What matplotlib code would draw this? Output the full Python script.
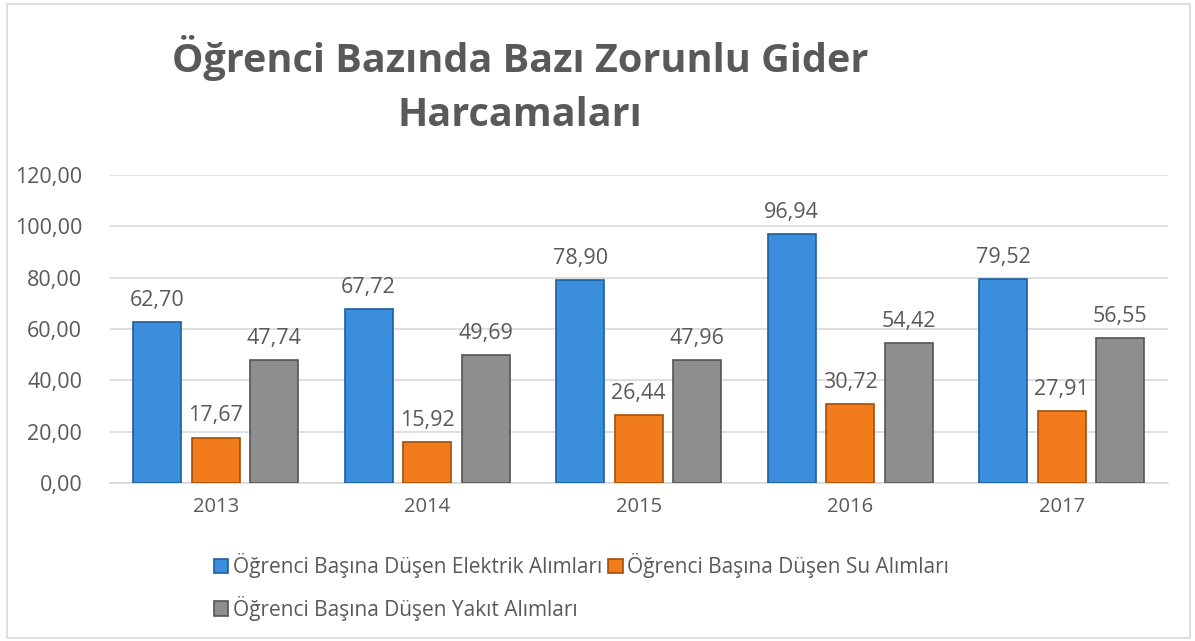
import matplotlib.pyplot as plt
import matplotlib.patches as mpatches
import numpy as np

plt.rcParams['font.family'] = ['Open Sans', 'DejaVu Sans']

years = ["2013", "2014", "2015", "2016", "2017"]
elektrik = [62.70, 67.72, 78.90, 96.94, 79.52]
su = [17.67, 15.92, 26.44, 30.72, 27.91]
yakit = [47.74, 49.69, 47.96, 54.42, 56.55]
series_names = ["Öğrenci Başına Düşen Elektrik Alımları",
                "Öğrenci Başına Düşen Su Alımları",
                "Öğrenci Başına Düşen Yakıt Alımları"]
colors = ["#3A8EDB", "#F27B1B", "#8E8E8E"]
edges = ["#1F5E9C", "#A34F0A", "#555555"]

txt = "#595959"

fig = plt.figure(figsize=(11.95, 6.41), dpi=100)
ax = fig.add_axes([0.092, 0.2465, 0.885, 0.4805])

x = np.arange(len(years))
w = 0.227
step = 0.277
handles = []
for i, (vals, c, ec) in enumerate(zip([elektrik, su, yakit], colors, edges)):
    bars = ax.bar(x + (i - 1) * step, vals, w, color=c, edgecolor=ec,
                  linewidth=1.2, zorder=3, label=series_names[i])
    handles.append(bars)
    for b, v in zip(bars, vals):
        ax.text(b.get_x() + b.get_width() / 2, v + 8.5,
                f"{v:.2f}".replace(".", ","), ha="center", va="center",
                fontsize=15.5, color=txt)

ax.set_ylim(0, 120)
ax.set_xlim(-0.5, 4.5)
ax.set_yticks(np.arange(0, 121, 20))
ax.set_yticklabels([f"{v:.2f}".replace(".", ",") for v in np.arange(0, 121, 20)])
ax.set_xticks(x)
ax.set_xticklabels(years)
ax.tick_params(axis="y", length=0, labelsize=15.5, colors=txt, pad=20)
ax.tick_params(axis="x", length=0, labelsize=14.5, colors=txt, pad=10)
ax.yaxis.grid(True, color="#D9D9D9", linewidth=1.2, zorder=0)
for s in ["top", "right", "left"]:
    ax.spines[s].set_visible(False)
ax.spines["bottom"].set_color("#D9D9D9")
ax.spines["bottom"].set_linewidth(1.2)

# two-line title, placed by baseline
fig.text(0.435, 0.888, "Öğrenci Bazında Bazı Zorunlu Gider", ha="center",
         va="baseline", fontsize=28.5, fontweight="bold", color=txt)
fig.text(0.435, 0.803, "Harcamaları", ha="center",
         va="baseline", fontsize=28.5, fontweight="bold", color=txt)

leg = fig.legend([handles[0], handles[2], handles[1]],
                 [series_names[0], series_names[2], series_names[1]],
                 ncol=2, loc="upper left", bbox_to_anchor=(0.172, 0.15),
                 frameon=False, fontsize=15, handlelength=0.7,
                 handleheight=0.7, handletextpad=0.2, columnspacing=0.3,
                 labelspacing=0.85, borderaxespad=0)
for t in leg.get_texts():
    t.set_color(txt)

fig.patches.append(mpatches.Rectangle((0.006, 0.004), 0.99, 0.99,
                                      transform=fig.transFigure, fill=False,
                                      edgecolor="#D9D9D9", linewidth=1.2))

plt.savefig("out.png", dpi=100)
